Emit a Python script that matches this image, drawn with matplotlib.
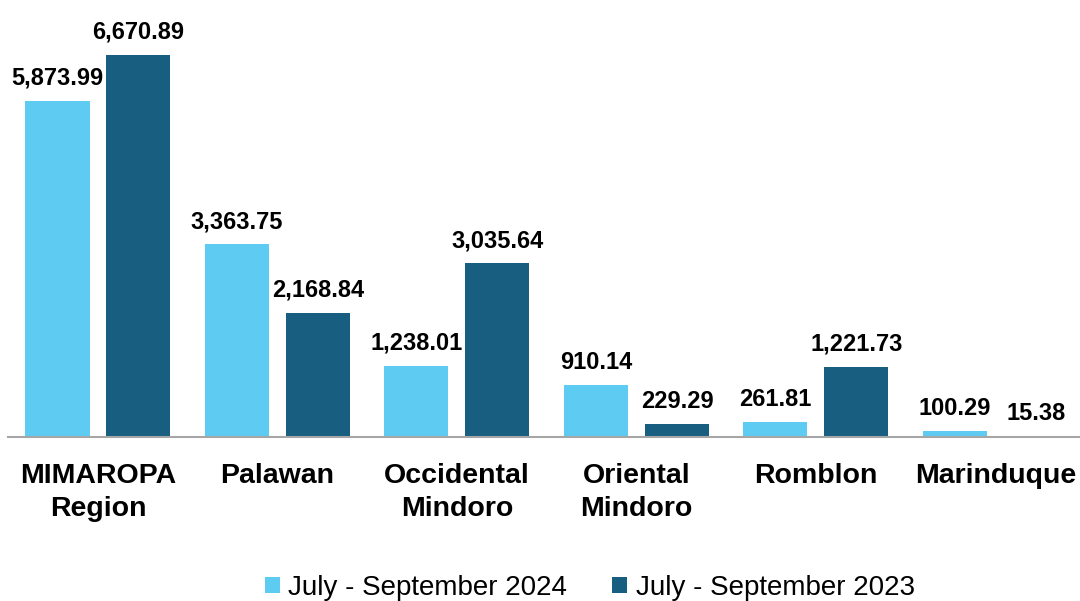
import numpy as np
import matplotlib
matplotlib.use("Agg")
import matplotlib.pyplot as plt

plt.rcParams['font.family'] = ['Liberation Sans', 'DejaVu Sans']

categories = ["MIMAROPA\nRegion", "Palawan", "Occidental\nMindoro",
              "Oriental\nMindoro", "Romblon", "Marinduque"]
q3_2024 = [5873.99, 3363.75, 1238.01, 910.14, 261.81, 100.29]
q3_2023 = [6670.89, 2168.84, 3035.64, 229.29, 1221.73, 15.38]
series_names = ["July - September 2024", "July - September 2023"]

light = "#5ECBF3"
dark = "#175E81"

fig = plt.figure(figsize=(10.8, 6.01), dpi=100)
ax = fig.add_axes([0.0076, 0.2729, 0.9972, 0.667])

x = np.arange(len(categories))
w = 0.357
off = 0.2256
b1 = ax.bar(x - off, q3_2024, w, color=light, label=series_names[0])
b2 = ax.bar(x + off, q3_2023, w, color=dark, label=series_names[1])

for bars, vals in ((b1, q3_2024), (b2, q3_2023)):
    ax.bar_label(bars, labels=[f"{v:,.2f}" for v in vals], padding=8,
                 fontsize=17, fontweight="bold")

ax.set_xlim(-0.5, len(categories) - 0.5)
ax.set_ylim(0, 7000)
ax.set_xticks(x)
ax.set_xticklabels(categories, fontsize=20.5, fontweight="bold", linespacing=1.35)
ax.tick_params(axis="x", length=0, pad=19)
ax.set_yticks([])
for s in ("top", "right", "left"):
    ax.spines[s].set_visible(False)
ax.spines["bottom"].set_color("#A6A6A6")
ax.spines["bottom"].set_linewidth(1.5)

fig.legend(loc="center", bbox_to_anchor=(0.546, 0.022), ncol=2, frameon=False,
           fontsize=20, handlelength=0.55, handleheight=0.55, handletextpad=0.3,
           columnspacing=1.6, borderpad=0)

plt.savefig("out.png", dpi=100)
